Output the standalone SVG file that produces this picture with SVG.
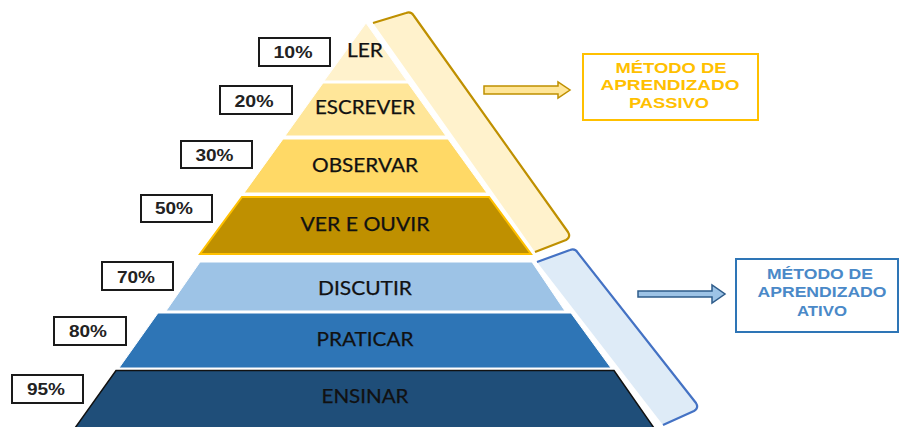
<svg xmlns="http://www.w3.org/2000/svg" width="902" height="427" viewBox="0 0 902 427">
<style>
.band{stroke:#fff;stroke-width:1}
.lbl{font-family:Lato,"Open Sans","Liberation Sans",sans-serif;font-size:18.5px;fill:#111;text-anchor:middle;stroke:#111;stroke-width:0.25}
.pbox{fill:#fff;stroke:#1a1a1a;stroke-width:2}
.pct{font-family:"Liberation Sans",Arial,sans-serif;font-weight:bold;font-size:16px;fill:#222;text-anchor:middle}
.mtxt{font-family:"Liberation Sans",Arial,sans-serif;font-weight:bold;text-anchor:middle}
</style>
<rect width="902" height="427" fill="#fff"/>

<g id="bracket-passive">
  <path d="M373,23 L406,13 Q411,11 414,16 L568,232 Q571,237 566,240 L535,252 Z" fill="#FFF2CC"/>
  <path d="M373,23 L406,13 Q411,11 414,16 L568,232 Q571,237 566,240 L535,252" fill="none" stroke="#BF9000" stroke-width="2.2" stroke-linejoin="round"/>
</g>
<g id="bracket-active">
  <path d="M537,262 L570,250 Q575,248 578,253 L696,403 Q699,408 694,411 L663,425 Z" fill="#DEEBF7"/>
  <path d="M537,262 L570,250 Q575,248 578,253 L696,403 Q699,408 694,411 L663,425" fill="none" stroke="#4472C4" stroke-width="2.2" stroke-linejoin="round"/>
</g>

<g id="ler">
  <polygon class="band" points="366,23 407,81 324,81" fill="#FFF2CC"/>
  <text class="lbl" x="365" y="57" textLength="36" lengthAdjust="spacingAndGlyphs">LER</text>
</g>
<g id="escrever">
  <polygon class="band" points="323,83 408,83 446,136 285,136" fill="#FFE699"/>
  <text class="lbl" x="365" y="114" textLength="100" lengthAdjust="spacingAndGlyphs">ESCREVER</text>
</g>
<g id="observar">
  <polygon class="band" points="283,139 448,139 487,193 244,193" fill="#FFD966"/>
  <text class="lbl" x="365" y="172" textLength="106" lengthAdjust="spacingAndGlyphs">OBSERVAR</text>
</g>
<g id="ver-e-ouvir">
  <polygon points="242,197 489,197 531,254 200,254" fill="#BF9000" stroke="#FFC000" stroke-width="2"/>
  <text class="lbl" x="365" y="231" textLength="129" lengthAdjust="spacingAndGlyphs">VER E OUVIR</text>
</g>
<g id="discutir">
  <polygon class="band" points="200,262 532,262 565,311 166,311" fill="#9DC3E6"/>
  <text class="lbl" x="365" y="295" textLength="94" lengthAdjust="spacingAndGlyphs">DISCUTIR</text>
</g>
<g id="praticar">
  <polygon class="band" points="158,313 571,313 611,368 119,368" fill="#2E75B6"/>
  <text class="lbl" x="365" y="346" textLength="97" lengthAdjust="spacingAndGlyphs">PRATICAR</text>
</g>
<g id="ensinar">
  <polygon points="116,370.5 614,370.5 654,428 75,428" fill="#1F4E79" stroke="#111" stroke-width="1.5"/>
  <text class="lbl" x="365" y="403" textLength="87" lengthAdjust="spacingAndGlyphs">ENSINAR</text>
</g>

<g id="pct-10"><rect class="pbox" x="259" y="38" width="71" height="28"/><text class="pct" x="293" y="57.5" textLength="39" lengthAdjust="spacingAndGlyphs">10%</text></g>
<g id="pct-20"><rect class="pbox" x="220" y="86" width="72" height="28"/><text class="pct" x="254" y="106.5" textLength="39" lengthAdjust="spacingAndGlyphs">20%</text></g>
<g id="pct-30"><rect class="pbox" x="181" y="141" width="71" height="27"/><text class="pct" x="214.5" y="160.5" textLength="38" lengthAdjust="spacingAndGlyphs">30%</text></g>
<g id="pct-50"><rect class="pbox" x="141" y="195" width="71" height="27"/><text class="pct" x="174" y="213.5" textLength="38" lengthAdjust="spacingAndGlyphs">50%</text></g>
<g id="pct-70"><rect class="pbox" x="102" y="262" width="71" height="28"/><text class="pct" x="136" y="282.5" textLength="38" lengthAdjust="spacingAndGlyphs">70%</text></g>
<g id="pct-80"><rect class="pbox" x="54" y="317" width="72" height="28"/><text class="pct" x="88" y="336.5" textLength="38" lengthAdjust="spacingAndGlyphs">80%</text></g>
<g id="pct-95"><rect class="pbox" x="12" y="375" width="71" height="28"/><text class="pct" x="46" y="394.5" textLength="38" lengthAdjust="spacingAndGlyphs">95%</text></g>

<g id="connectors">
  <path d="M484,86 L558,86 L558,82 L570,90 L558,98 L558,94 L484,94 Z" fill="#FFE699" stroke="#BF9000" stroke-width="1.5" stroke-linejoin="miter"/>
  <path d="M638,291 L712,291 L712,285 L725,294 L712,303 L712,297 L638,297 Z" fill="#9DC3E6" stroke="#2E5C8A" stroke-width="1.5" stroke-linejoin="miter"/>
</g>

<g id="passivo">
  <rect x="583" y="54" width="175" height="66" fill="#fff" stroke="#FFC000" stroke-width="2"/>
  <text class="mtxt" fill="#FFC000" font-size="15" x="671" y="73" textLength="111" lengthAdjust="spacingAndGlyphs">MÉTODO DE</text>
  <text class="mtxt" fill="#FFC000" font-size="15" x="670" y="90.3" textLength="139" lengthAdjust="spacingAndGlyphs">APRENDIZADO</text>
  <text class="mtxt" fill="#FFC000" font-size="15" x="669" y="107.6" textLength="80" lengthAdjust="spacingAndGlyphs">PASSIVO</text>
</g>
<g id="ativo">
  <rect x="736" y="259" width="162" height="73" fill="#fff" stroke="#2E75B6" stroke-width="2"/>
  <text class="mtxt" fill="#4A89C8" font-size="15.5" x="820" y="278.5" textLength="106" lengthAdjust="spacingAndGlyphs">MÉTODO DE</text>
  <text class="mtxt" fill="#4A89C8" font-size="15.5" x="822" y="297" textLength="129" lengthAdjust="spacingAndGlyphs">APRENDIZADO</text>
  <text class="mtxt" fill="#4A89C8" font-size="15.5" x="822" y="315.5" textLength="50" lengthAdjust="spacingAndGlyphs">ATIVO</text>
</g>
</svg>
